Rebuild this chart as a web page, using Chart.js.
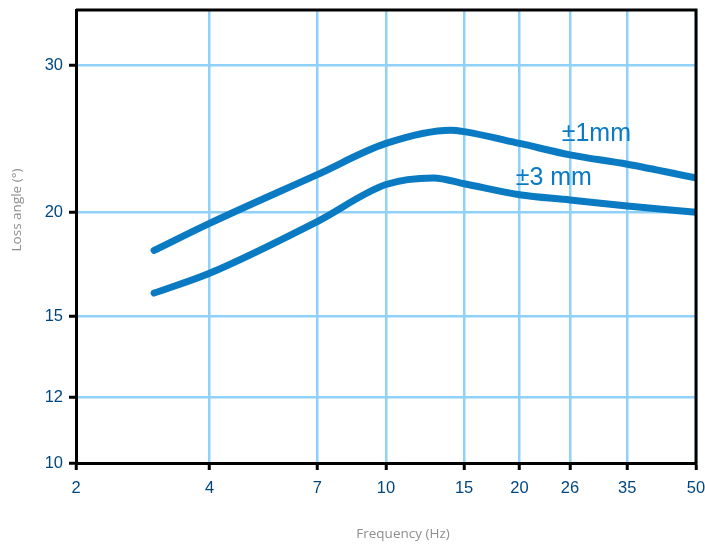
<!DOCTYPE html>
<html>
<head>
<meta charset="utf-8">
<script src="https://cdn.jsdelivr.net/npm/chart.js@4/dist/chart.umd.min.js"></script>
<style>
html,body{margin:0;padding:0;background:#fff;}
#wrap{width:705px;height:547px;position:relative;}
</style>
</head>
<body>
<div id="wrap"><canvas id="c" width="705" height="547"></canvas></div>
<script>
const xTicks = [2, 4, 7, 10, 15, 20, 26, 35, 50];
const yTicks = [10, 12, 15, 20, 30];

const freq1 = [3, 4, 7, 10, 14, 15, 20, 26, 35, 50];
const loss1 = [18.0, 19.4, 22.2, 24.2, 25.1, 25.0, 24.2, 23.45, 22.85, 22.0];

const freq3 = [3, 4, 7, 10, 12.8, 15, 20, 26, 35, 50];
const loss3 = [16.0, 16.9, 19.5, 21.6, 22.0, 21.65, 21.0, 20.7, 20.35, 20.0];

const seriesLabels = ['±1mm', '±3 mm'];
const labelAnchors = [[29.8, 24.85], [23.9, 22.0]];

const lineColor = '#0a7bc3';
const gridColor = '#8fd1f8';
const tickColor = '#00477f';

const toPts = (xs, ys) => xs.map((x, i) => ({x: x, y: ys[i]}));

const zeroPad = s => { s.paddingLeft = 0; s.paddingRight = 0; s.paddingTop = 0; s.paddingBottom = 0; };

const framePlugin = {
  id: 'frame',
  afterDraw(chart) {
    const {ctx, chartArea: a, scales} = chart;
    ctx.save();
    ctx.strokeStyle = '#000';
    ctx.lineWidth = 3;
    ctx.beginPath();
    ctx.moveTo(a.left, a.top); ctx.lineTo(a.right, a.top); ctx.lineTo(a.right, a.bottom);
    ctx.stroke();
    // series labels
    ctx.fillStyle = lineColor;
    ctx.font = '25px "Liberation Sans", Arial, sans-serif';
    ctx.textAlign = 'center';
    ctx.textBaseline = 'middle';
    seriesLabels.forEach((t, i) => {
      const px = scales.x.getPixelForValue(labelAnchors[i][0]);
      const py = scales.y.getPixelForValue(labelAnchors[i][1]);
      ctx.fillText(t, px, py);
    });
    // axis titles
    ctx.fillStyle = '#8f8f8f';
    ctx.font = '13.5px "Open Sans", sans-serif';
    ctx.fillText('Frequency (Hz)', 403, 534);
    ctx.translate(17, 210);
    ctx.rotate(-Math.PI / 2);
    ctx.font = '13.5px "Open Sans", sans-serif';
    ctx.fillText('Loss angle (°)', 0, 0);
    ctx.restore();
  }
};

new Chart(document.getElementById('c'), {
  type: 'line',
  data: {
    datasets: [
      {label: seriesLabels[0], data: toPts(freq1, loss1), borderColor: lineColor, borderWidth: 7, pointRadius: 0, tension: 0.4, cubicInterpolationMode: 'monotone', borderCapStyle: 'round', fill: false},
      {label: seriesLabels[1], data: toPts(freq3, loss3), borderColor: lineColor, borderWidth: 7, pointRadius: 0, tension: 0.4, cubicInterpolationMode: 'monotone', borderCapStyle: 'round', fill: false}
    ]
  },
  options: {
    responsive: false,
    animation: false,
    devicePixelRatio: 1,
    layout: {padding: {top: 10, right: 9, left: 0, bottom: 0}},
    plugins: {legend: {display: false}, tooltip: {enabled: false}},
    scales: {
      x: {
        type: 'logarithmic',
        min: 2, max: 50,
        afterBuildTicks: s => { s.ticks = xTicks.map(v => ({value: v})); },
        afterFit: s => { s.height = 84; zeroPad(s); },
        grid: {color: gridColor, lineWidth: 2.5, tickColor: '#000', tickLength: 7, tickWidth: 3, drawOnChartArea: true},
        border: {display: true, color: '#000', width: 3},
        ticks: {color: tickColor, font: {size: 16.5, family: '"Liberation Sans", Arial, sans-serif'}, padding: 9, maxRotation: 0, autoSkip: false, callback: v => String(v)}
      },
      y: {
        type: 'logarithmic',
        min: 10, max: 35,
        afterBuildTicks: s => { s.ticks = yTicks.map(v => ({value: v})); },
        afterFit: s => { s.width = 76; zeroPad(s); },
        grid: {color: gridColor, lineWidth: 2.5, tickColor: '#000', tickLength: 7, tickWidth: 3},
        border: {display: true, color: '#000', width: 3},
        ticks: {color: tickColor, font: {size: 16.5, family: '"Liberation Sans", Arial, sans-serif'}, padding: 6, autoSkip: false, callback: v => String(v)}
      }
    }
  },
  plugins: [framePlugin]
});
</script>
</body>
</html>
